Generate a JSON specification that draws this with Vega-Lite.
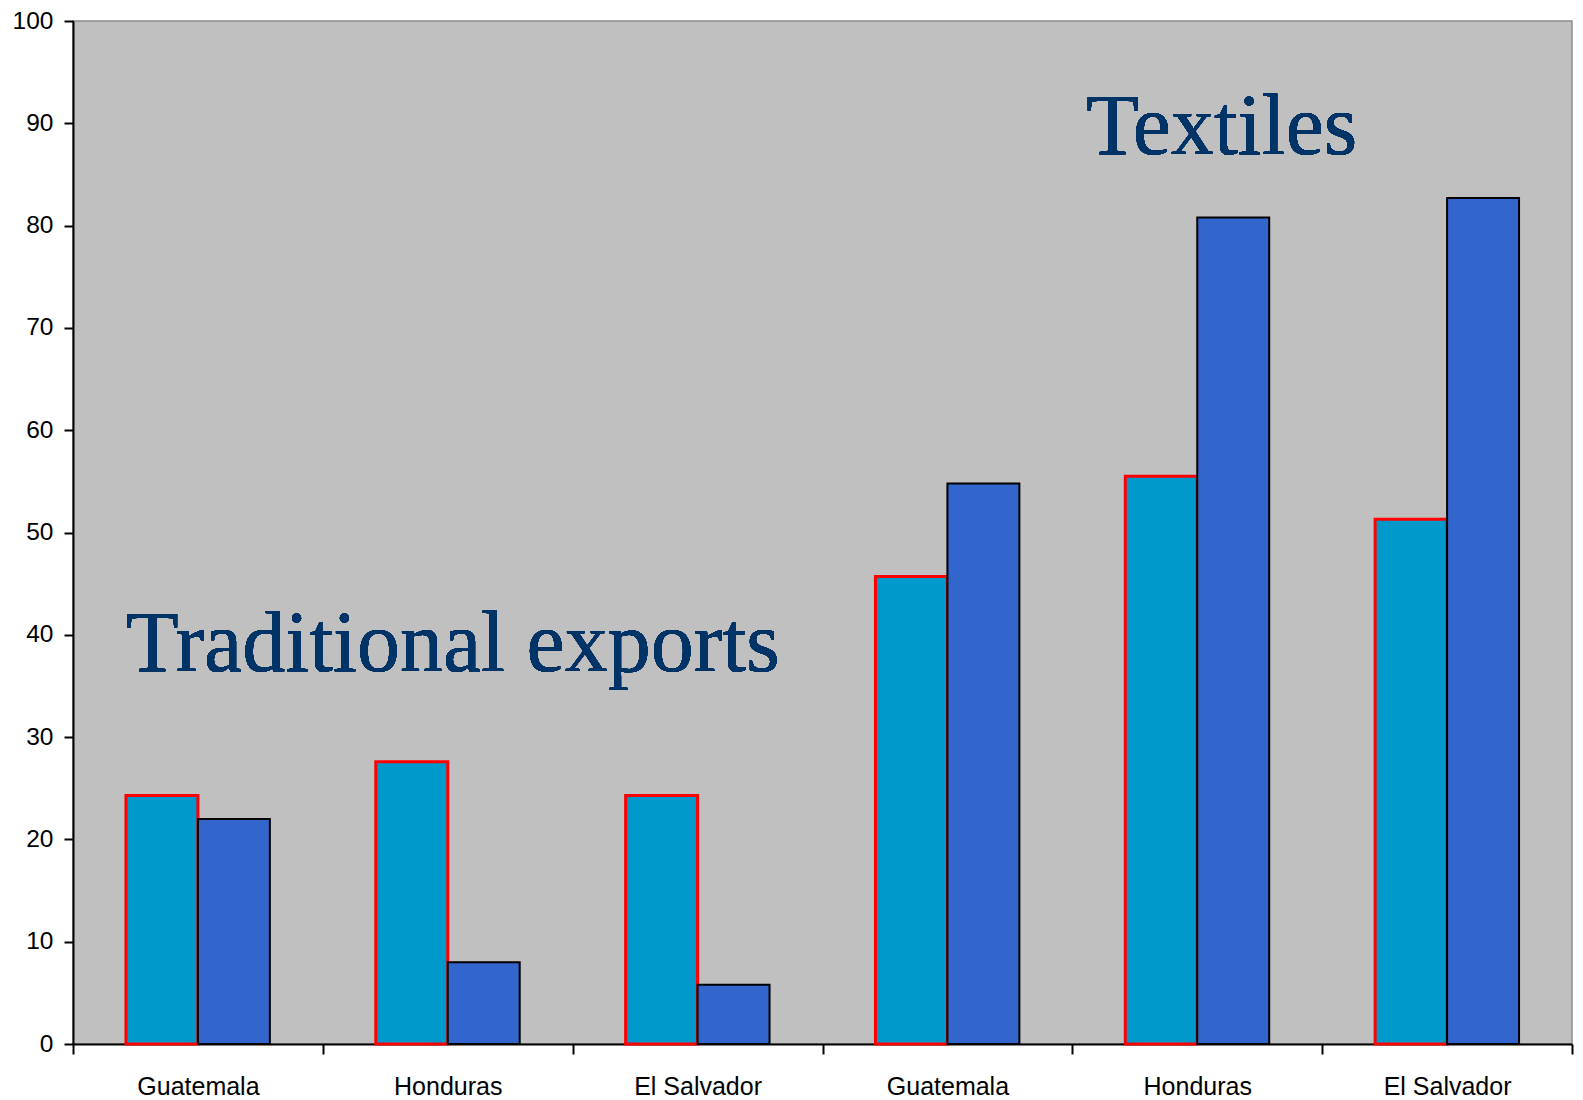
{
  "$schema": "https://vega.github.io/schema/vega-lite/v6.json",
  "autosize": "none",
  "width": 1499,
  "height": 1023,
  "padding": {"left": 73, "top": 21, "right": 11, "bottom": 56},
  "background": "#FFFFFF",
  "config": {
    "view": {"fill": "#C0C0C0", "stroke": "#8C8C8C", "strokeWidth": 1.5},
    "axis": {"labelFont": "Liberation Sans", "labelColor": "#000000", "domainColor": "#000000", "tickColor": "#000000", "grid": false, "title": null}
  },
  "data": {
    "values": [
      {"key": "Traditional|Guatemala", "series": "series 1", "value": 24.3},
      {"key": "Traditional|Guatemala", "series": "series 2", "value": 22.0},
      {"key": "Traditional|Honduras", "series": "series 1", "value": 27.6},
      {"key": "Traditional|Honduras", "series": "series 2", "value": 8.0},
      {"key": "Traditional|El Salvador", "series": "series 1", "value": 24.3},
      {"key": "Traditional|El Salvador", "series": "series 2", "value": 5.8},
      {"key": "Textiles|Guatemala", "series": "series 1", "value": 45.7},
      {"key": "Textiles|Guatemala", "series": "series 2", "value": 54.8},
      {"key": "Textiles|Honduras", "series": "series 1", "value": 55.5},
      {"key": "Textiles|Honduras", "series": "series 2", "value": 80.8},
      {"key": "Textiles|El Salvador", "series": "series 1", "value": 51.3},
      {"key": "Textiles|El Salvador", "series": "series 2", "value": 82.7}
    ]
  },
  "layer": [
    {
      "mark": {"type": "bar"},
      "encoding": {
        "x": {
          "field": "key", "type": "nominal", "sort": null,
          "scale": {"paddingInner": 0, "paddingOuter": 0},
          "axis": {
            "labelExpr": "split(datum.label, '|')[1]",
            "labelAngle": 0, "labelFontSize": 25, "labelPadding": 20,
            "tickBand": "extent", "tickSize": 10, "tickWidth": 2, "domainWidth": 2
          }
        },
        "xOffset": {"field": "series", "type": "nominal", "scale": {"paddingInner": 0, "paddingOuter": 0.736}},
        "y": {
          "field": "value", "type": "quantitative",
          "scale": {"domain": [0, 100], "nice": false},
          "axis": {"values": [0,10,20,30,40,50,60,70,80,90,100], "labelFontSize": 24.5, "tickSize": 9, "tickWidth": 2, "domainWidth": 2, "labelPadding": 11}
        },
        "fill": {"field": "series", "type": "nominal", "scale": {"range": ["#0099CC", "#3366CC"]}, "legend": null},
        "stroke": {"field": "series", "type": "nominal", "scale": {"range": ["#FF0000", "#000000"]}, "legend": null},
        "strokeWidth": {"field": "series", "type": "ordinal", "scale": {"range": [3, 2]}, "legend": null}
      }
    },
    {
      "mark": {"type": "text", "align": "left", "baseline": "alphabetic", "font": "Liberation Serif", "fontSize": 86, "color": "#003366", "dx": -72},
      "encoding": {
        "x": {"datum": "Traditional|Guatemala", "type": "nominal"},
        "y": {"datum": 36.5, "type": "quantitative"},
        "text": {"value": "Traditional exports"}
      }
    },
    {
      "mark": {"type": "text", "align": "left", "baseline": "alphabetic", "font": "Liberation Serif", "fontSize": 86, "color": "#003366", "dx": -111},
      "encoding": {
        "x": {"datum": "Textiles|Honduras", "type": "nominal"},
        "y": {"datum": 87.0, "type": "quantitative"},
        "text": {"value": "Textiles"}
      }
    }
  ]
}
